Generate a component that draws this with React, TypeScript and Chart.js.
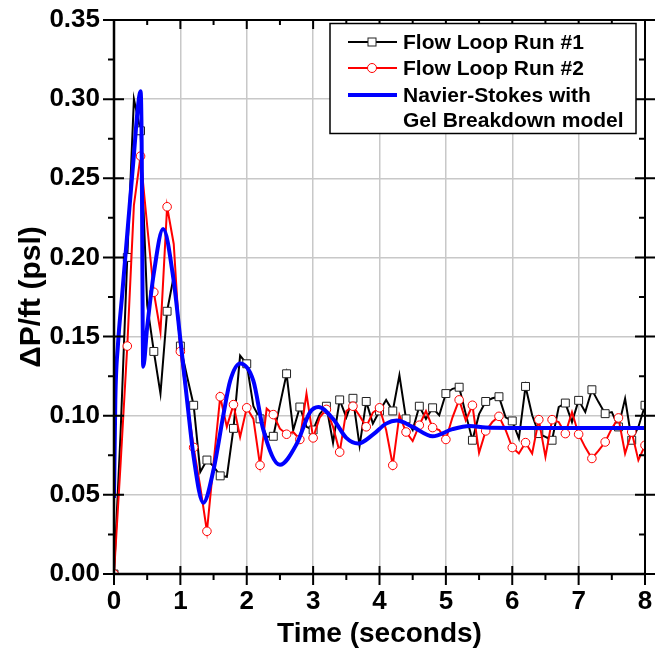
import React, { useEffect, useRef } from "react";
import { Chart, registerables } from "chart.js";

Chart.register(...registerables);

// ---------- data ----------
const runTimes = [
  0, 0.1, 0.2, 0.3, 0.4, 0.5, 0.6, 0.7, 0.8, 0.9,
  1, 1.1, 1.2, 1.3, 1.4, 1.5, 1.6, 1.7, 1.8, 1.9,
  2, 2.1, 2.2, 2.3, 2.4, 2.5, 2.6, 2.7, 2.8, 2.9,
  3, 3.1, 3.2, 3.3, 3.4, 3.5, 3.6, 3.7, 3.8, 3.9,
  4, 4.1, 4.2, 4.3, 4.4, 4.5, 4.6, 4.7, 4.8, 4.9,
  5, 5.1, 5.2, 5.3, 5.4, 5.5, 5.6, 5.7, 5.8, 5.9,
  6, 6.1, 6.2, 6.3, 6.4, 6.5, 6.6, 6.7, 6.8, 6.9,
  7, 7.1, 7.2, 7.3, 7.4, 7.5, 7.6, 7.7, 7.8, 7.9,
  8,
];

const flowLoopRun1 = [
  0, 0.09, 0.2, 0.3, 0.28, 0.17, 0.1406, 0.114, 0.166, 0.188,
  0.144, 0.125, 0.1066, 0.0645, 0.072, 0.068, 0.062, 0.0614, 0.092, 0.138,
  0.1328, 0.106, 0.098, 0.0866, 0.087, 0.107, 0.1265, 0.0908, 0.1055, 0.093,
  0.091, 0.101, 0.106, 0.083, 0.11, 0.099, 0.111, 0.081, 0.109, 0.095,
  0.103, 0.11, 0.103, 0.1255, 0.098, 0.091, 0.106, 0.098, 0.105, 0.1003,
  0.114, 0.117, 0.118, 0.101, 0.0845, 0.101, 0.109, 0.111, 0.112, 0.099,
  0.0967, 0.0856, 0.1185, 0.1003, 0.0887, 0.0866, 0.0845, 0.1055, 0.108, 0.096,
  0.1097, 0.1023, 0.1164, 0.1086, 0.1013, 0.1023, 0.0929, 0.1108, 0.0845, 0.0929,
  0.1066,
];

const flowLoopRun2 = [
  0, 0.07, 0.144, 0.233, 0.264, 0.22, 0.178, 0.153, 0.232, 0.2085,
  0.1406, 0.11, 0.08, 0.055, 0.027, 0.07, 0.112, 0.093, 0.107, 0.0866,
  0.105, 0.098, 0.0687, 0.1045, 0.1007, 0.0918, 0.0883, 0.0897, 0.085, 0.114,
  0.086, 0.099, 0.104, 0.093, 0.077, 0.103, 0.106, 0.1, 0.093, 0.102,
  0.105, 0.091, 0.0687, 0.1003, 0.0897, 0.084, 0.094, 0.103, 0.0925, 0.091,
  0.085, 0.099, 0.11, 0.097, 0.1066, 0.0765, 0.0904, 0.096, 0.0996, 0.091,
  0.0799, 0.0761, 0.083, 0.0761, 0.0975, 0.074, 0.0975, 0.096, 0.0887, 0.1023,
  0.0883, 0.08, 0.073, 0.078, 0.0834, 0.092, 0.0986, 0.0761, 0.0897, 0.0719,
  0.0813,
];

const modelTimes = [
  0, 0.02, 0.06, 0.12, 0.2, 0.3, 0.36, 0.4, 0.415, 0.44,
  0.5, 0.6, 0.74, 0.9, 1.0, 1.1, 1.2, 1.345, 1.5, 1.65,
  1.75, 1.9, 2.1, 2.25, 2.5, 2.75, 2.95, 3.08, 3.3, 3.5,
  3.68, 3.9, 4.1, 4.26, 4.5, 4.8, 5.1, 5.36, 5.6, 6.0,
  7.0, 8.0,
];

const modelValues = [
  0.048, 0.11, 0.145, 0.175, 0.215, 0.265, 0.295, 0.305, 0.28, 0.131,
  0.156, 0.19, 0.218, 0.185, 0.148, 0.11, 0.074, 0.045, 0.066, 0.101,
  0.122, 0.133, 0.122, 0.091, 0.069, 0.082, 0.102, 0.1055, 0.098, 0.086,
  0.0824, 0.088, 0.095, 0.097, 0.093, 0.087, 0.0915, 0.0935, 0.0925, 0.0923,
  0.0923, 0.0923,
];

const xMajorTicks = [0, 1, 2, 3, 4, 5, 6, 7, 8];
const xMinorTicks = [0.5, 1.5, 2.5, 3.5, 4.5, 5.5, 6.5, 7.5];
const yMajorTicks = [0, 0.05, 0.1, 0.15, 0.2, 0.25, 0.3, 0.35];
const yMinorTicks = [0.025, 0.075, 0.125, 0.175, 0.225, 0.275, 0.325];

const seriesNames = ["Flow Loop Run #1", "Flow Loop Run #2", "Navier-Stokes with", "Gel Breakdown model"];
const xTitle = "Time (seconds)";
const yTitle = "ΔP/ft (psl)";

const FONT = "'Liberation Sans', Arial, Helvetica, sans-serif";

const framePlugin = {
  id: "framePlugin",
  afterDatasetsDraw(chart: any) {
    const { ctx, chartArea, scales } = chart;
    const { left, right, top, bottom } = chartArea;
    const xs = scales.x;
    const ys = scales.y;
    ctx.save();
    ctx.strokeStyle = "#000";
    ctx.lineCap = "butt";
    ctx.lineWidth = 2.5;
    ctx.beginPath();
    ctx.moveTo(left, top);
    ctx.lineTo(left, bottom);
    ctx.lineTo(right, bottom);
    ctx.stroke();
    ctx.lineWidth = 2;
    ctx.beginPath();
    ctx.moveTo(left, top);
    ctx.lineTo(right, top);
    ctx.lineTo(right, bottom);
    ctx.stroke();
    ctx.lineWidth = 2;
    ctx.beginPath();
    xMajorTicks.forEach((v) => {
      const px = xs.getPixelForValue(v);
      ctx.moveTo(px, bottom - 8);
      ctx.lineTo(px, bottom + 11);
      ctx.moveTo(px, top);
      ctx.lineTo(px, top + 9);
    });
    xMinorTicks.forEach((v) => {
      const px = xs.getPixelForValue(v);
      ctx.moveTo(px, bottom);
      ctx.lineTo(px, bottom + 6);
      ctx.moveTo(px, top);
      ctx.lineTo(px, top + 5);
    });
    yMajorTicks.forEach((v) => {
      const py = ys.getPixelForValue(v);
      ctx.moveTo(left - 11, py);
      ctx.lineTo(left + 10, py);
      ctx.moveTo(right - 10, py);
      ctx.lineTo(right + 10, py);
    });
    yMinorTicks.forEach((v) => {
      const py = ys.getPixelForValue(v);
      ctx.moveTo(left - 6, py);
      ctx.lineTo(left, py);
      ctx.moveTo(right - 6, py);
      ctx.lineTo(right, py);
    });
    ctx.stroke();
    ctx.restore();
  },
  afterDraw(chart: any) {
    const { ctx } = chart;
    ctx.save();
    const bx = 330, by = 23.5, bw = 306, bh = 110;
    ctx.fillStyle = "#fff";
    ctx.fillRect(bx, by, bw, bh);
    ctx.strokeStyle = "#000";
    ctx.lineWidth = 1.5;
    ctx.strokeRect(bx, by, bw, bh);
    const rows = [42, 68, 95, 120.5];
    const lx0 = 348, lx1 = 397, mx = 372, tx = 403;
    ctx.strokeStyle = "#000";
    ctx.lineWidth = 2;
    ctx.beginPath();
    ctx.moveTo(lx0, rows[0]);
    ctx.lineTo(lx1, rows[0]);
    ctx.stroke();
    ctx.fillStyle = "#fff";
    ctx.fillRect(mx - 4, rows[0] - 4, 8, 8);
    ctx.lineWidth = 1;
    ctx.strokeStyle = "#222";
    ctx.strokeRect(mx - 4, rows[0] - 4, 8, 8);
    ctx.strokeStyle = "#ff0000";
    ctx.lineWidth = 2;
    ctx.beginPath();
    ctx.moveTo(lx0, rows[1]);
    ctx.lineTo(lx1, rows[1]);
    ctx.stroke();
    ctx.beginPath();
    ctx.arc(mx, rows[1], 4.5, 0, Math.PI * 2);
    ctx.fillStyle = "#fff";
    ctx.fill();
    ctx.lineWidth = 1;
    ctx.stroke();
    ctx.strokeStyle = "#0000ff";
    ctx.lineWidth = 4;
    ctx.beginPath();
    ctx.moveTo(lx0, rows[2]);
    ctx.lineTo(lx1, rows[2]);
    ctx.stroke();
    ctx.fillStyle = "#000";
    ctx.font = `bold 21px ${FONT}`;
    ctx.textAlign = "left";
    ctx.textBaseline = "middle";
    seriesNames.forEach((name, i) => ctx.fillText(name, tx, rows[i] + 1));
    ctx.restore();
  },
};

export default function App() {
  const canvasRef = useRef<HTMLCanvasElement | null>(null);

  useEffect(() => {
    const canvas = canvasRef.current;
    if (!canvas) return;
    Chart.defaults.font.family = FONT;
    const chart = new Chart(canvas, {
      type: "line",
      data: {
        datasets: [
          {
            label: seriesNames[0],
            data: runTimes.map((t, i) => ({ x: t, y: flowLoopRun1[i] })),
            borderColor: "#000",
            borderWidth: 2,
            tension: 0,
            pointStyle: "rect",
            pointRadius: (c: any) => (c.dataIndex % 2 === 0 ? 5.6 : 0),
            pointBackgroundColor: "#fff",
            pointBorderColor: "#222",
            pointBorderWidth: 1,
            order: 2,
          },
          {
            label: seriesNames[1],
            data: runTimes.map((t, i) => ({ x: t, y: flowLoopRun2[i] })),
            borderColor: "#ff0000",
            borderWidth: 2,
            tension: 0,
            pointStyle: "circle",
            pointRadius: (c: any) => (c.dataIndex % 2 === 0 ? 4.3 : 0),
            pointBackgroundColor: "#fff",
            pointBorderColor: "#ff0000",
            pointBorderWidth: 1,
            order: 1,
          },
          {
            label: seriesNames[2] + " " + seriesNames[3],
            data: modelTimes.map((t, i) => ({ x: t, y: modelValues[i] })),
            borderColor: "#0000ff",
            borderWidth: 4,
            cubicInterpolationMode: "monotone",
            pointRadius: 0,
            order: 0,
          },
        ],
      },
      options: {
        animation: false,
        responsive: false,
        devicePixelRatio: 1,
        layout: { padding: { top: 20, right: 10, left: 0, bottom: 0 } },
        plugins: {
          legend: { display: false },
          tooltip: { enabled: false },
        },
        scales: {
          x: {
            type: "linear",
            min: 0,
            max: 8,
            afterFit: (s: any) => {
              s.height = 80;
              s.paddingLeft = 0;
              s.paddingRight = 0;
            },
            grid: { color: "#c8c8c8", lineWidth: 1.5, drawTicks: false },
            border: { display: false },
            ticks: {
              stepSize: 1,
              padding: 12,
              color: "#000",
              font: { size: 26, weight: "bold" },
              callback: (v: any) => String(v),
            },
            title: {
              display: true,
              text: xTitle,
              color: "#000",
              font: { size: 28, weight: "bold" },
              padding: { top: 0, bottom: 3 },
            },
          },
          y: {
            type: "linear",
            min: 0,
            max: 0.35,
            afterFit: (s: any) => {
              s.width = 114;
              s.paddingTop = 0;
              s.paddingBottom = 0;
            },
            grid: { color: "#c8c8c8", lineWidth: 1.5, drawTicks: false },
            border: { display: false },
            ticks: {
              stepSize: 0.05,
              padding: 14,
              color: "#000",
              font: { size: 26, weight: "bold" },
              callback: (v: any) => Number(v).toFixed(2),
            },
            title: {
              display: true,
              text: yTitle,
              color: "#000",
              font: { size: 30, weight: "bold" },
              padding: { top: 14, bottom: 0 },
            },
          },
        },
      },
      plugins: [framePlugin],
    });
    return () => chart.destroy();
  }, []);

  return (
    <div style={{ position: "fixed", left: 0, top: 0, width: 655, height: 654, background: "#fff" }}>
      <canvas ref={canvasRef} width={655} height={654} style={{ width: 655, height: 654, display: "block" }} />
    </div>
  );
}
